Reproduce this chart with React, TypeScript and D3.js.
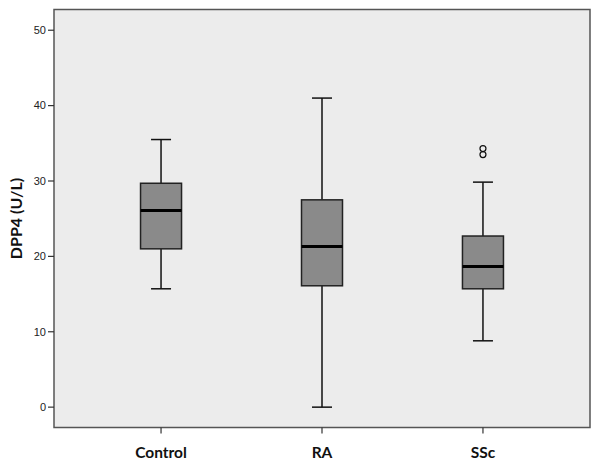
import React from "react";
import * as d3 from "d3";

const categories = ["Control", "RA", "SSc"];
const whiskerLow = [15.7, 0, 8.8];
const q1 = [21.0, 16.1, 15.7];
const median = [26.1, 21.3, 18.65];
const q3 = [29.7, 27.5, 22.7];
const whiskerHigh = [35.5, 41.0, 29.85];
const outliers = [[], [], [34.3, 33.5]];
const yTicks = [0, 10, 20, 30, 40, 50];

const W = 601;
const H = 468;
const left = 54;
const right = 590;
const top = 9.5;
const bottom = 427.5;

export default function App() {
  const y = d3.scaleLinear().domain([-2.7, 52.75]).range([bottom, top]);
  const x = d3.scalePoint<string>().domain(categories).range([left, right]).padding(0.665);
  const boxW = 41;
  const capW = 20;
  return (
    <svg width={W} height={H} style={{ position: "absolute", left: 0, top: 0, background: "#fff" }}>
      <rect x={left} y={top} width={right - left} height={bottom - top} fill="#ececec" stroke="#555" strokeWidth={1.5} />
      {yTicks.map((t) => (
        <g key={t}>
          <line x1={left - 6} x2={left} y1={y(t)} y2={y(t)} stroke="#333" strokeWidth={1.2} />
          <text x={left - 8} y={y(t)} dy="0.35em" textAnchor="end" fontFamily="Liberation Sans, Arial, sans-serif" fontSize={11} fill="#222">{t}</text>
        </g>
      ))}
      {categories.map((c, i) => {
        const cx = x(c) as number;
        return (
          <g key={c}>
            <line x1={cx} x2={cx} y1={bottom} y2={bottom + 6} stroke="#333" strokeWidth={1.2} />
            <text x={cx} y={458} textAnchor="middle" fontFamily="Lato, sans-serif" fontWeight="bold" fontSize={15.5} fill="#111">{c}</text>
            <line x1={cx} x2={cx} y1={y(whiskerHigh[i])} y2={y(q3[i])} stroke="#111" strokeWidth={1.5} />
            <line x1={cx} x2={cx} y1={y(q1[i])} y2={y(whiskerLow[i])} stroke="#111" strokeWidth={1.5} />
            <line x1={cx - capW / 2} x2={cx + capW / 2} y1={y(whiskerHigh[i])} y2={y(whiskerHigh[i])} stroke="#111" strokeWidth={1.5} />
            <line x1={cx - capW / 2} x2={cx + capW / 2} y1={y(whiskerLow[i])} y2={y(whiskerLow[i])} stroke="#111" strokeWidth={1.5} />
            <rect x={cx - boxW / 2} y={y(q3[i])} width={boxW} height={y(q1[i]) - y(q3[i])} fill="#8a8a8a" stroke="#222" strokeWidth={1.5} />
            <line x1={cx - boxW / 2} x2={cx + boxW / 2} y1={y(median[i])} y2={y(median[i])} stroke="#000" strokeWidth={3} />
            {outliers[i].map((o, j) => (
              <circle key={j} cx={cx} cy={y(o)} r={3} fill="none" stroke="#111" strokeWidth={1.2} />
            ))}
          </g>
        );
      })}
      <text transform={`translate(22,${(top + bottom) / 2}) rotate(-90)`} textAnchor="middle" fontFamily="Lato, sans-serif" fontWeight="bold" fontSize={16} fill="#111">DPP4 (U/L)</text>
    </svg>
  );
}
